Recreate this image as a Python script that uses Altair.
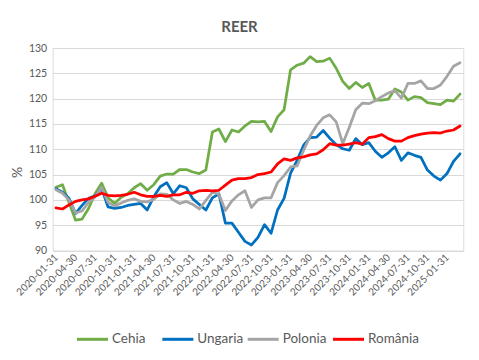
import calendar
import altair as alt
import pandas as pd

# Month-end categories 2020-01 .. 2025-03
months = []
for yr in range(2020, 2026):
    for mo in range(1, 13):
        if (yr, mo) > (2025, 3):
            break
        months.append(f"{yr}-{mo:02d}-{calendar.monthrange(yr, mo)[1]:02d}")

tick_labels = months[::3]

series_names = ["Cehia", "Ungaria", "Polonia", "România"]
series_colors = ["#70ad47", "#0070c0", "#a5a5a5", "#ff0000"]

cehia = [102.5, 103.0, 99.5, 96.0, 96.2, 98.3, 101.2, 103.3, 100.4, 99.3,
         100.5, 101.2, 102.4, 103.2, 101.9, 103.0, 104.7, 105.1, 105.1, 106.0,
         106.0, 105.5, 105.2, 105.9, 113.4, 114.0, 111.5, 113.8, 113.4, 114.6,
         115.5, 115.4, 115.5, 113.5, 116.4, 117.8, 125.7, 126.6, 127.0, 128.3,
         127.3, 127.4, 128.0, 126.0, 123.4, 122.0, 123.2, 122.2, 123.0, 119.7,
         119.7, 119.9, 121.9, 121.3, 119.7, 120.4, 120.2, 119.2, 119.0, 118.8,
         119.7, 119.5, 120.9]

ungaria = [102.2, 101.5, 100.3, 97.3, 98.9, 100.3, 100.8, 102.3, 98.6, 98.3,
           98.5, 98.9, 99.1, 99.3, 98.0, 100.6, 102.6, 103.4, 101.2, 102.8,
           102.4, 100.2, 99.1, 98.0, 100.4, 101.2, 95.4, 95.4, 93.6, 91.8,
           91.1, 92.6, 95.1, 93.4, 98.0, 100.3, 105.3, 107.8, 110.8, 112.3,
           112.4, 113.7, 112.2, 110.9, 110.1, 109.8, 112.1, 110.9, 111.3, 109.6,
           108.4, 109.3, 110.5, 107.8, 109.3, 108.8, 108.4, 105.9, 104.7, 103.9,
           105.2, 107.6, 109.1]

polonia = [102.0, 101.3, 100.0, 97.4, 97.8, 99.5, 100.6, 102.5, 99.5, 98.8,
           99.4, 99.9, 100.2, 99.7, 99.6, 100.1, 101.2, 101.1, 100.0, 99.3,
           99.7, 99.1, 98.2, 99.9, 101.5, 101.1, 97.9, 99.8, 101.0, 101.8,
           98.5, 100.0, 100.4, 100.4, 103.4, 104.8, 106.5, 106.7, 109.8, 112.6,
           114.7, 116.2, 116.8, 115.4, 111.1, 114.3, 117.8, 119.1, 119.0, 119.6,
           120.4, 121.1, 121.6, 120.1, 123.0, 123.0, 123.5, 122.0, 122.0, 122.7,
           124.4, 126.4, 127.1]

romania = [98.4, 98.2, 99.0, 99.7, 100.0, 100.2, 100.7, 101.3, 100.9, 100.8,
           100.9, 101.1, 101.5, 101.0, 100.7, 100.7, 100.9, 100.7, 101.0, 101.0,
           101.5, 101.3, 101.8, 101.9, 101.8, 101.9, 102.9, 103.9, 104.2, 104.2,
           104.4, 105.0, 105.2, 105.5, 107.1, 108.1, 107.8, 108.3, 108.5, 108.9,
           109.1, 109.9, 111.1, 110.8, 110.8, 111.0, 111.3, 111.0, 112.3, 112.5,
           112.9, 112.1, 111.6, 111.6, 112.3, 112.7, 113.0, 113.2, 113.3, 113.2,
           113.6, 113.8, 114.6]

y_ticks = [90, 95, 100, 105, 110, 115, 120, 125, 130]
chart_title = ["REER"]

rows = []
for name, vals in zip(series_names, [cehia, ungaria, polonia, romania]):
    for d, v in zip(months, vals):
        rows.append({"date": d, "value": v, "series": name})
df = pd.DataFrame(rows)
legend_df = pd.DataFrame({"series": series_names})

TXT = "#595959"
FONT = "Lato"

color_enc = alt.Color(
    "series:N",
    sort=series_names,
    scale=alt.Scale(domain=series_names, range=series_colors),
    legend=None,
)

lines = alt.Chart(df).mark_line(
    strokeWidth=2.75, strokeJoin="round", strokeCap="round"
).encode(
    x=alt.X(
        "date:O",
        sort=months,
        scale=alt.Scale(type="point", padding=0.5, domain=months),
        axis=alt.Axis(
            values=tick_labels, labelAngle=315, labelAlign="right",
            labelBaseline="middle", labelFont=FONT, labelFontSize=10,
            labelColor=TXT, labelPadding=5, labelOverlap=False,
            domain=False, ticks=False, grid=False, title=None,
        ),
    ),
    y=alt.Y(
        "value:Q",
        scale=alt.Scale(domain=[90, 130], nice=False, zero=False),
        axis=alt.Axis(
            values=y_ticks, grid=True, gridColor="#d9d9d9", gridWidth=1,
            domain=False, ticks=False, labelFont=FONT, labelFontSize=10.5,
            labelColor=TXT, labelPadding=6,
            title="%", titleFont=FONT, titleFontSize=14,
            titleFontWeight="normal", titleColor=TXT, titleAngle=270,
            titleX=-35.5, titleY=124, titleAlign="center",
            titleBaseline="middle",
        ),
    ),
    color=color_enc,
)

# Legend row (bottom, centred) drawn from the series list
legend_x = alt.X(
    "series:N",
    sort=series_names,
    scale=alt.Scale(type="point", padding=0, domain=series_names,
                    range=[39.8, 295.8]),
    axis=None,
)

legend_symbols = alt.Chart(legend_df).mark_point(
    shape="stroke", size=961, strokeWidth=3, filled=False, opacity=1
).encode(x=legend_x, y=alt.value(291.3), color=color_enc)

legend_labels = alt.Chart(legend_df).mark_text(
    align="left", baseline="middle", dx=19.5, font=FONT, fontSize=13.5,
    color=TXT,
).encode(x=legend_x, y=alt.value(291.3), text="series:N")

title_mark = alt.Chart(pd.DataFrame({"t": chart_title})).mark_text(
    font=FONT, fontSize=15, fontWeight="bold", color=TXT,
    align="center", baseline="alphabetic",
).encode(text="t:N", x=alt.value(186.8), y=alt.value(-16.3))

chart = alt.layer(lines, legend_symbols, legend_labels, title_mark).resolve_scale(
    x="independent"
).properties(
    width=410.6,
    height=202.5,
    padding={"left": 44.7, "top": 40, "right": 7, "bottom": 100},
    autosize=alt.AutoSizeParams(type="none"),
).configure_view(stroke=None).configure(background="white")

chart.save("out.html", embed_options={"renderer": "svg", "actions": False})
